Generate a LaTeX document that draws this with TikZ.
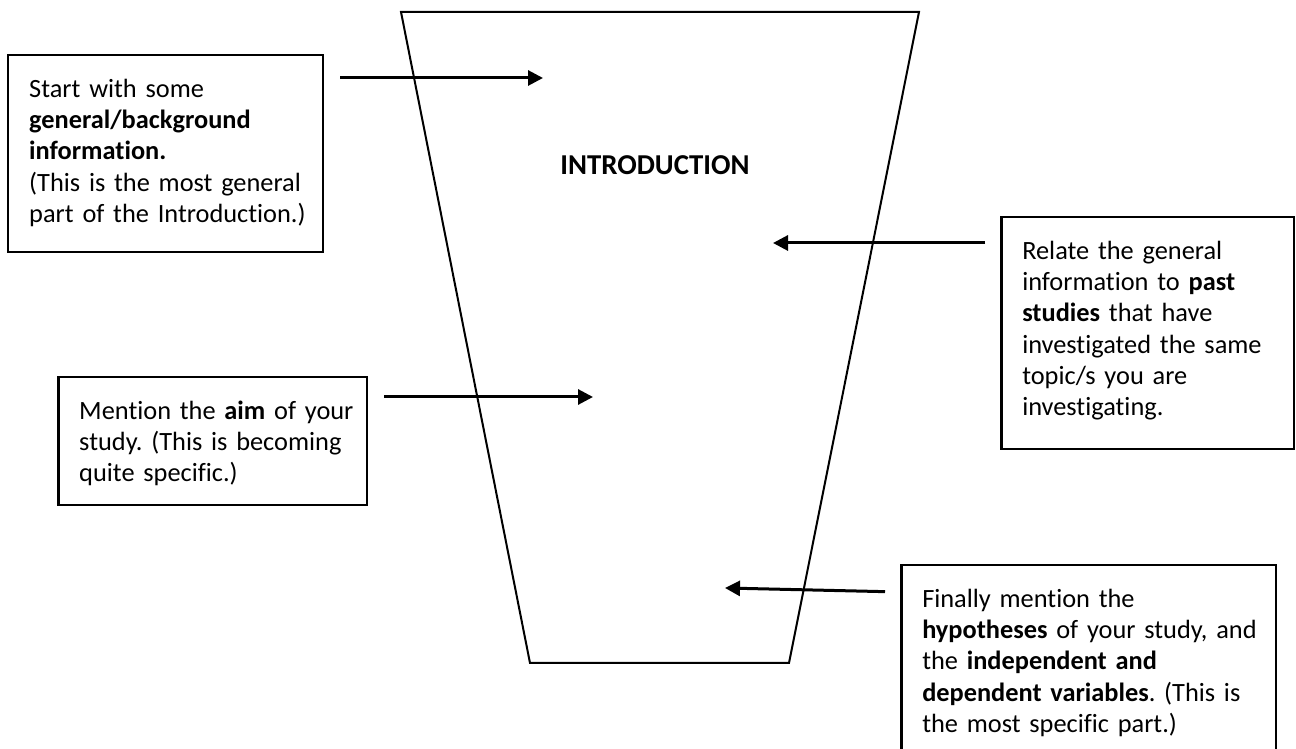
\documentclass[tikz,border=0pt]{standalone}
\usepackage{fontspec}
\setmainfont{Carlito}[Ligatures=NoCommon]
\usepackage{tikz}
\usetikzlibrary{arrows.meta}

\frenchspacing
\newcommand{\notefont}{\fontsize{15}{17.8}\selectfont}

\tikzset{
  notebox/.style={draw, line width=0.05cm, anchor=north west, align=left,
    inner xsep=0.42cm, inner ysep=0.3cm, text height=0.54cm, font=\notefont},
  pointer/.style={line width=0.06cm, ->}
}

\begin{document}
\begin{tikzpicture}[x=0.02cm, y=-0.02cm, >={Triangle[length=0.3cm,width=0.3cm]}]
\useasboundingbox (0,0) rectangle (1296,749);

% Funnel of the introduction
\draw[line width=0.04cm] (401,12) -- (919,12) -- (789,663) -- (530,663) -- cycle;
\node[font=\fontsize{16.4}{19}\selectfont\bfseries] (intro) at (655,165) {INTRODUCTION};

% Boxes with the steps
\node[notebox, text width=5.46cm, text depth=2.8cm] (general) at (7,54)
  {\mbox{Start with some}\\ \mbox{\textbf{general/background}}\\ \mbox{\textbf{information.}}\\
   \mbox{(This is the most general}\\ \mbox{part of the Introduction.)}};
\node[notebox, text width=5.02cm, text depth=3.5cm] (past) at (1000,216)
  {\mbox{Relate the general}\\ \mbox{information to \textbf{past}}\\ \mbox{\textbf{studies} that have}\\
   \mbox{investigated the same}\\ \mbox{topic/s you are}\\ \mbox{investigating.}};
\node[notebox, text width=5.34cm, text depth=1.42cm] (aim) at (57,376)
  {\mbox{Mention the \textbf{aim} of your}\\ \mbox{study. (This is becoming}\\ \mbox{quite specific.)}};
\node[notebox, text width=6.66cm, text depth=3.2cm] (hyp) at (900,564)
  {\mbox{Finally mention the}\\ \mbox{\textbf{hypotheses} of your study, and}\\ \mbox{the \textbf{independent and}}\\
   \mbox{\textbf{dependent variables}. (This is}\\ \mbox{the most specific part.)}};

% Arrows into the funnel
\coordinate (tip1) at (543,78);
\coordinate (tip2) at (773,243);
\coordinate (tip3) at (593,397);
\coordinate (tip4) at (725,588);
\draw[pointer, shorten <=0.32cm] (general.east |- tip1) -- (tip1);
\draw[pointer, shorten <=0.3cm] (past.west |- tip2) -- (tip2);
\draw[pointer, shorten <=0.32cm] (aim.east |- tip3) -- (tip3);
\draw[pointer, shorten <=0.3cm] (hyp.west |- 0,592) -- (tip4);
\end{tikzpicture}
\end{document}
